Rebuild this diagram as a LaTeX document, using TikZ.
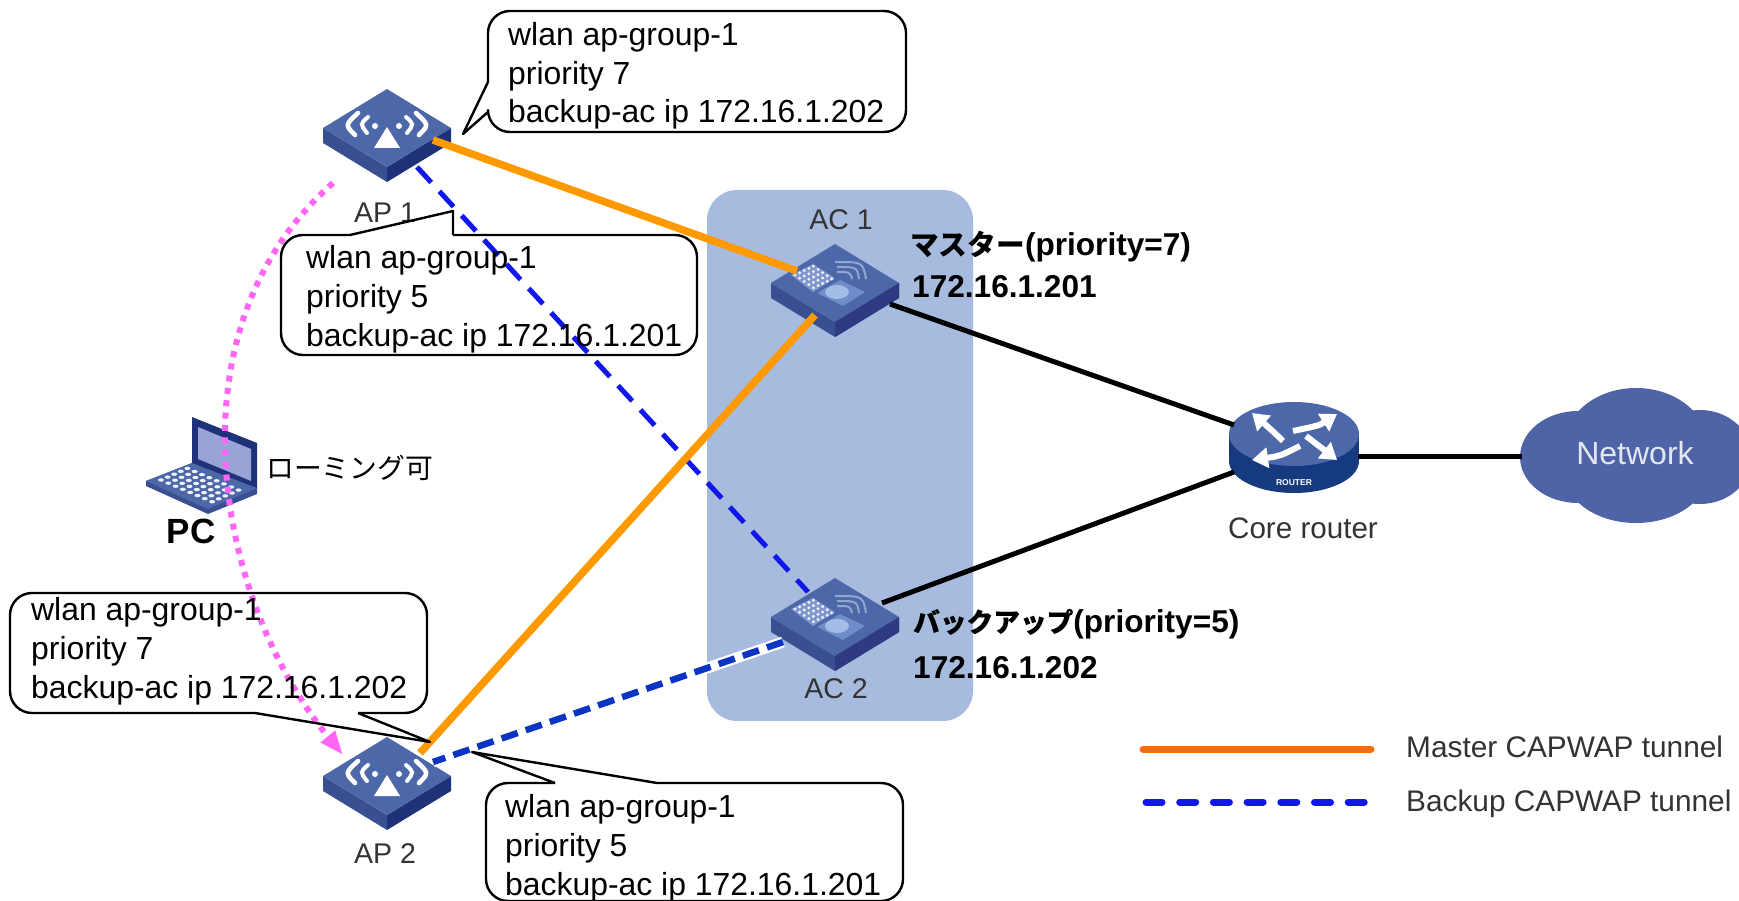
\documentclass[tikz,border=0pt]{standalone}
\usepackage{fontspec}
\setmainfont{Liberation Sans}
\newfontfamily\cjk{Noto Sans CJK JP}
\newfontfamily\cjkmed[FakeBold=0.35]{Noto Sans CJK JP}
\usetikzlibrary{arrows.meta}
\definecolor{areablue}{HTML}{A7BBDE}
\definecolor{devtop}{HTML}{4D68A9}
\definecolor{devleft}{HTML}{3A4F91}
\definecolor{devright}{HTML}{1F3178}
\definecolor{acright}{HTML}{2E3A82}
\definecolor{routerdark}{HTML}{163A80}
\definecolor{cloudblue}{HTML}{4F64A6}
\definecolor{tunorange}{HTML}{FF9900}
\definecolor{legorange}{HTML}{FB6C0C}
\definecolor{tunblue}{HTML}{0F17EA}
\definecolor{tunblueb}{HTML}{0A35C4}
\definecolor{roampink}{HTML}{FF66F5}
\definecolor{labelgrey}{HTML}{333333}
\definecolor{panelblue}{HTML}{6F8DC8}
\definecolor{keypanel}{HTML}{8098CE}
\definecolor{discblue}{HTML}{A3BDE6}
\definecolor{wifilight}{HTML}{93A6CF}
\definecolor{screenblue}{HTML}{98A3D6}
\tikzset{
  x=1pt,y=-1pt,
  callout/.style={draw=black,line width=2.4pt,line join=round},
  calltext/.style={anchor=base west,inner sep=0pt,align=left,font=\fontsize{31.9}{38.7}\selectfont},
  devlabel/.style={anchor=base,inner sep=0pt,text=labelgrey,font=\fontsize{28.5}{34}\selectfont},
  boldlabel/.style={anchor=base west,inner sep=0pt,font=\fontsize{31.6}{36}\selectfont\bfseries},
  legendtext/.style={anchor=base west,inner sep=0pt,text=labelgrey,font=\fontsize{29.8}{34}\selectfont},
  anchorbox/.style={inner sep=0pt,minimum width=100pt,minimum height=60pt},
  blackline/.style={draw=black,line width=5pt},
  master/.style={draw=tunorange,line width=7.5pt},
  backupa/.style={draw=tunblue,line width=5pt,dash pattern=on 21pt off 12pt},
  backupb/.style={draw=tunblueb,line width=6.5pt,dash pattern=on 17pt off 8.5pt},
  casing/.style={draw=white,line width=11pt},
  roam/.style={draw=roampink,line width=6pt,dash pattern=on 6pt off 6.4pt,-{Triangle[length=24pt,width=17pt]}},
}
% platform box: origin is the centre of the top face
\newcommand{\platebox}[3]{%
  \begin{scope}[shift={(#1,#2)}]
    \fill[devleft] (-64,0)--(0,39)--(0,54)--(-64,15)--cycle;
    \fill[devright] (64,0)--(0,39)--(0,54)--(64,15)--cycle;
    \fill[devtop] (0,-39)--(64,0)--(0,39)--(-64,0)--cycle;
    #3
  \end{scope}}
\newcommand{\apface}{%
  \fill[white] (0,-1)--(13,20)--(-13,20)--cycle;
  \fill[white] (-12,-2) circle (3);
  \fill[white] (12,-2) circle (3);
  \draw[white,line width=4pt,line cap=round] (-19,-11) .. controls (-27,-4) .. (-20,5);
  \draw[white,line width=4pt,line cap=round] (19,-11) .. controls (27,-4) .. (20,5);
  \draw[white,line width=4.6pt,line cap=round] (-29,-15) .. controls (-42,-3) .. (-32,7);
  \draw[white,line width=4.6pt,line cap=round] (29,-15) .. controls (42,-3) .. (32,7);
}
\newcommand{\acface}{%
  \fill[acright] (64,0)--(0,39)--(0,54)--(64,15)--cycle;
  \fill[panelblue] (-18,10)--(5,-3)--(30,9)--(8,23)--cycle;
  \fill[discblue] (2,9) ellipse (12 and 7);
  \fill[keypanel] (-44,-8)--(-22,-19)--(0,-5)--(-22,9)--cycle;
  \foreach \i in {0,...,4}{\foreach \j in {0,...,4}{
    \fill[white,opacity=.9] ({-40+\i*4.6+\j*4.6},{-8-\i*2.2+\j*3.2}) circle (1.6);
  }}
  \draw[wifilight,line width=2pt] (0,-21) .. controls (28,-21) .. (31,-4);
  \draw[wifilight,line width=2pt] (2,-16) .. controls (22,-16) .. (24,-4);
  \draw[wifilight,line width=2pt] (2,-11) .. controls (15,-11) .. (17,-4);
}
\begin{document}
\begin{tikzpicture}
\clip (0,0) rectangle (1739,901);
\fill[white] (0,0) rectangle (1739,901);
% controller area
\fill[areablue,rounded corners=30pt] (707,190) rectangle (973,721);
% devices
\node[anchorbox] (ap1) at (387,128) {};
\node[anchorbox] (ap2) at (387,776) {};
\node[anchorbox] (ac1) at (835,283) {};
\node[anchorbox] (ac2) at (835,617) {};
\platebox{387}{128}{\apface}
\platebox{387}{776}{\apface}
\platebox{835}{283}{\acface}
\platebox{835}{617}{\acface}
\node[devlabel] (ap1l) at (385,223) {AP 1};
\node[devlabel] (ap2l) at (385,863) {AP 2};
\node[devlabel] (ac1l) at (841,230) {AC 1};
\node[devlabel] (ac2l) at (836,698) {AC 2};
% router
\node[inner sep=0pt,minimum width=130pt,minimum height=90pt] (router) at (1294,448) {};
\fill[routerdark] (1294,461) ellipse (65 and 32);
\fill[routerdark] (1229,434) rectangle (1359,461);
\fill[devtop] (1294,434) ellipse (65 and 32);
\foreach \ax/\ay/\bx/\by in {1283/441/1252/413, 1293/431/1337/414, 1300/446/1252/460, 1306/436/1337/460}{
  \draw[white,line width=6pt,-{Triangle[length=16pt,width=20pt]}] (\ax,\ay) .. controls ({(\ax+\bx)/2+4},{(\ay+\by)/2+3}) .. (\bx,\by);
}
\node[inner sep=0pt,text=white,font=\fontsize{8.5}{10}\selectfont\bfseries] (routertag) at (1294,483) {ROUTER};
\node[devlabel,font=\fontsize{29.6}{34}\selectfont] (routerl) at (1303,538) {Core router};
% cloud
\fill[cloudblue] (1578,457) ellipse (58 and 46);
\fill[cloudblue] (1636,446) ellipse (72 and 58);
\fill[cloudblue] (1636,472) ellipse (72 and 51);
\fill[cloudblue] (1700,457) ellipse (52 and 47);
\node[inner sep=0pt,text=white,opacity=.85,font=\fontsize{32}{36}\selectfont] (net) at (1635,453) {Network};
\coordinate (cloudedge) at (1522,456);
% laptop
\fill[devleft] (146,481)--(192,463)--(257,488)--(257,494)--(208,514)--(146,486)--cycle;
\fill[devtop] (146,481)--(192,463)--(257,488)--(208,509)--cycle;
\fill[devright] (192,417)--(257,443)--(257,488)--(192,463)--cycle;
\fill[screenblue] (198,427)--(251,449)--(251,481)--(198,459)--cycle;
\foreach \u in {0,...,7}{\foreach \v in {0,...,4}{
  \fill[white!90!devtop] ({161+\u*7.3+\v*6.6},{480+\u*3.1-\v*2.9}) ellipse (3 and 1.7);
}}
\node[inner sep=0pt,minimum width=112pt,minimum height=92pt] (pc) at (202,463) {};
\node[anchor=base,inner sep=0pt,font=\fontsize{35}{40}\selectfont\bfseries] (pcl) at (191,543) {PC};
\node[anchor=west,inner sep=0pt,font=\fontsize{27.8}{32}\selectfont\cjk] (roaml) at (266,468) {ローミング可};
% connectors
\draw[blackline] ([shift={(55,21)}]ac1.center) -- ([shift={(-60,-23)}]router.center);
\draw[blackline] ([shift={(47,-14)}]ac2.center) -- ([shift={(-60,24)}]router.center);
\draw[blackline] ([shift={(64,8)}]router.center) -- (cloudedge);
\draw[backupa] ([shift={(30,39)}]ap1.center) -- ([shift={(-27,-25)}]ac2.center);
\draw[master] ([shift={(46,12)}]ap1.center) -- ([shift={(-38,-12)}]ac1.center);
\draw[master] ([shift={(-20,32)}]ac1.center) -- ([shift={(33,-23)}]ap2.center);
\draw[casing] ([shift={(-52,25)}]ac2.center) -- ([shift={(46,-14)}]ap2.center);
\draw[backupb] ([shift={(-52,25)}]ac2.center) -- ([shift={(46,-14)}]ap2.center);
\draw[roam] ([shift={(-54,55)}]ap1.center) .. controls (165,330) and (216,600) .. ([shift={(-44,-21)}]ap2.center);
% callouts
\draw[callout,rounded corners=22pt] (488,82) -- (488,11) -- (906,11) -- (906,132) -- (488,132) -- (488,112);
\draw[callout] (488,82) -- (463,134) -- (488,112);
\draw[callout,rounded corners=22pt] (453,235) -- (697,235) -- (697,355) -- (281,355) -- (281,235) -- (350,235);
\draw[callout] (350,235) -- (453,211) -- (453,235);
\draw[callout,rounded corners=22pt] (255,713) -- (10,713) -- (10,593) -- (427,593) -- (427,713) -- (358,713);
\draw[callout] (255,713) -- (430,742) -- (358,713);
\draw[callout,rounded corners=22pt] (657,783) -- (903,783) -- (903,901) -- (486,901) -- (486,783) -- (555,783);
\draw[callout] (657,783) -- (472,752) -- (555,783);
\node[calltext] (c1) at (508,123) {wlan ap-group-1\\priority 7\\backup-ac ip 172.16.1.202};
\node[calltext] (c2) at (306,346) {wlan ap-group-1\\priority 5\\backup-ac ip 172.16.1.201};
\node[calltext] (c3) at (31,698) {wlan ap-group-1\\priority 7\\backup-ac ip 172.16.1.202};
\node[calltext] (c4) at (505,895) {wlan ap-group-1\\priority 5\\backup-ac ip 172.16.1.201};
% address labels
\node[boldlabel] (m1) at (910,255) {{\cjk\fontsize{28.7}{36}\selectfont マスター}(priority=7)};
\node[boldlabel] (m2) at (912,297) {172.16.1.201};
\node[boldlabel] (b1) at (913,632) {{\cjkmed\fontsize{26.7}{36}\selectfont バックアップ}(priority=5)};
\node[boldlabel] (b2) at (913,678) {172.16.1.202};
% legend
\coordinate (lo1) at (1143,749);
\coordinate (lo2) at (1371,749);
\coordinate (lb1) at (1146,802);
\coordinate (lb2) at (1371,802);
\draw[draw=legorange,line width=7pt,line cap=round] (lo1) -- (lo2);
\draw[draw=tunblue,line width=7pt,line cap=round,dash pattern=on 16pt off 17.7pt] (lb1) -- (lb2);
\node[legendtext] (lt1) at (1406,757) {Master CAPWAP tunnel};
\node[legendtext] (lt3) at (1406,811) {Backup CAPWAP tunnel};
\end{tikzpicture}
\end{document}
